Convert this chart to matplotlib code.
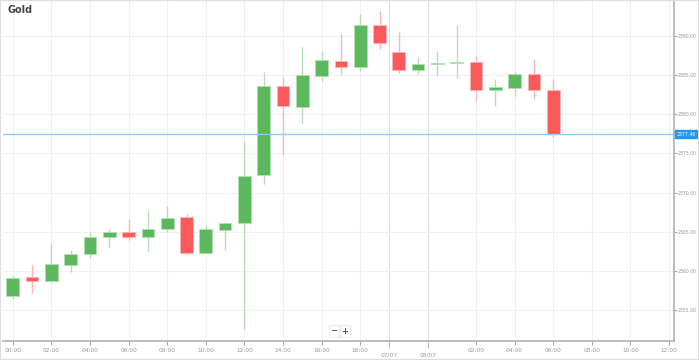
import matplotlib.pyplot as plt
from matplotlib.patches import Rectangle

# hourly candles (index positions on the axis)
opens = [2356.8, 2359.2, 2358.7, 2360.75, 2362.1, 2364.3, 2365.0, 2364.3, 2365.35, 2366.85,
         2362.3, 2365.25, 2366.1, 2372.25, 2383.6, 2380.9, 2384.95, 2386.8, 2386.1, 2391.4,
         2387.9, 2385.6, 2386.4, 2386.6, 2386.65, 2383.1, 2383.4, 2385.15, 2383.1]
closes = [2359.1, 2358.7, 2360.85, 2362.15, 2364.3, 2365.0, 2364.3, 2365.35, 2366.75, 2362.25,
          2365.3, 2366.15, 2372.15, 2383.6, 2381.0, 2385.0, 2386.95, 2386.1, 2391.4, 2389.05,
          2385.6, 2386.4, 2386.6, 2386.65, 2383.1, 2383.45, 2385.15, 2383.05, 2377.45]
highs = [2359.35, 2360.7, 2363.5, 2362.7, 2365.0, 2365.35, 2366.6, 2367.8, 2368.3, 2367.2,
         2365.8, 2366.2, 2376.6, 2385.4, 2384.7, 2388.6, 2387.9, 2390.2, 2392.85, 2393.2,
         2390.5, 2387.3, 2388.1, 2391.4, 2387.45, 2384.45, 2385.4, 2387.05, 2384.45]
lows = [2356.4, 2357.2, 2358.55, 2359.9, 2361.6, 2363.0, 2363.9, 2362.6, 2364.9, 2362.2,
        2362.25, 2362.7, 2352.55, 2371.05, 2374.8, 2378.85, 2384.3, 2385.0, 2385.5, 2388.4,
        2385.3, 2385.2, 2384.85, 2384.6, 2381.75, 2381.05, 2382.4, 2381.9, 2377.05]

last_price = 2377.46

time_pos = [0, 2, 4, 6, 8, 10, 12, 14, 16, 18, 24, 26, 28, 30, 32, 34]
time_labels = ['00:00', '02:00', '04:00', '06:00', '08:00', '10:00', '12:00', '14:00',
               '16:00', '18:00', '02:00', '04:00', '06:00', '08:00', '10:00', '12:00']
date_pos = [19.5, 21.5]
date_labels = ['07/07', '08/07']
price_ticks = [2355, 2360, 2365, 2370, 2375, 2380, 2385, 2390]

GREEN = '#5cb85c'
RED = '#fb5a5a'
GREEN_WICK = '#b5deb5'
RED_WICK = '#fdb5b5'

fig = plt.figure(figsize=(6.99, 3.6), dpi=100)
ax = fig.add_axes([0.004, 0.053, 0.96, 0.947])

w = 0.66
for i in range(len(opens)):
    o, c, h, l = opens[i], closes[i], highs[i], lows[i]
    up = c >= o
    col = GREEN if up else RED
    wick = GREEN_WICK if up else RED_WICK
    ax.plot([i, i], [l, h], color=wick, lw=1, zorder=2, solid_capstyle='butt')
    body = max(abs(c - o), 0.12)
    ax.add_patch(Rectangle((i - w / 2, min(o, c)), w, body, facecolor=col,
                           edgecolor=wick, lw=0.6, zorder=3))

ax.axhline(last_price, color='#90caf9', lw=1, zorder=4)

ax.set_xlim(-0.52, 34.25)
ax.set_ylim(2351.05, 2394.6)

ax.set_xticks(time_pos, time_labels)
ax.set_xticks(date_pos, date_labels, minor=True)
ax.set_yticks(price_ticks, ['%.2f' % p for p in price_ticks])
ax.yaxis.tick_right()

for x in time_pos:
    ax.axvline(x, color='#f1f1f1', lw=0.8, zorder=0)
for x in date_pos:
    ax.axvline(x, color='#dedede', lw=0.8, zorder=0)
for y in price_ticks:
    ax.axhline(y, color='#f1f1f1', lw=0.8, zorder=0)

ax.tick_params(axis='x', which='major', length=3, pad=2, labelsize=4.2,
               colors='#aaaaaa', labelcolor='#999999')
ax.tick_params(axis='x', which='minor', length=5, pad=3, labelsize=4.2,
               colors='#aaaaaa', labelcolor='#999999')
ax.tick_params(axis='y', length=2, pad=1, labelsize=3.3, colors='#aaaaaa',
               labelcolor='#999999')

for s in ['top', 'left']:
    ax.spines[s].set_visible(False)
ax.spines['right'].set_color('#b0b0b0')
ax.spines['bottom'].set_color('#b0b0b0')
ax.spines['right'].set_linewidth(1.2)
ax.spines['bottom'].set_linewidth(1.2)

# current price label on the axis
ax.text(1.004, last_price, '%.2f' % last_price, transform=ax.get_yaxis_transform(),
        fontsize=3.3, color='white', va='center', ha='left',
        bbox=dict(boxstyle='square,pad=0.3', facecolor='#2196f3', edgecolor='#2196f3'))

fig.text(8 / 699, 1 - 10 / 360, 'Gold', fontsize=7, fontweight='bold', color='#444444',
         va='center', ha='left')

# zoom buttons
for x, t in [(334 / 699, '−'), (345 / 699, '+')]:
    fig.text(x, 1 - 331 / 360, t, fontsize=6, fontweight='bold', color='#555555',
             ha='center', va='center',
             bbox=dict(boxstyle='square,pad=0.2', facecolor='white', edgecolor='#eeeeee'))

fig.patches.append(Rectangle((0, 0), 1, 1, transform=fig.transFigure, fill=False,
                             edgecolor='#dddddd', lw=1.5))

fig.savefig('out.png', dpi=100)
